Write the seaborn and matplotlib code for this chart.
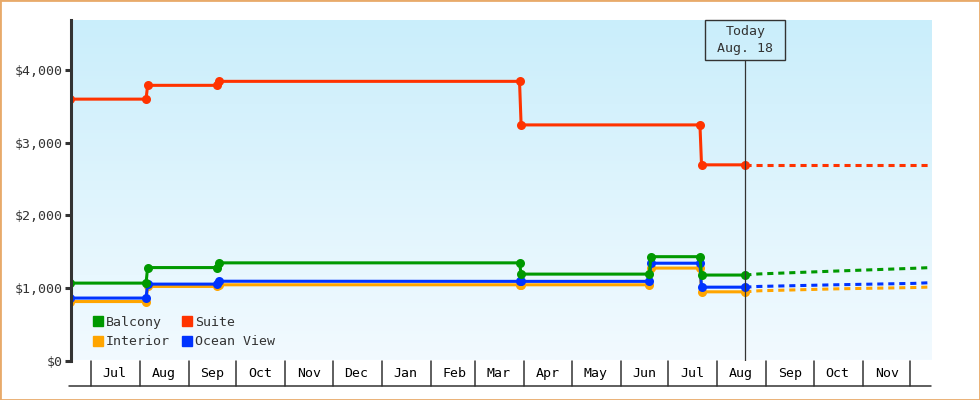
import matplotlib
matplotlib.use("Agg")
import matplotlib.pyplot as plt
import matplotlib.dates as mdates
from matplotlib.colors import LinearSegmentedColormap
from matplotlib.lines import Line2D
from matplotlib.patches import Rectangle
from matplotlib.ticker import FuncFormatter
import numpy as np
import pandas as pd
import seaborn as sns

# price history, one value per cabin at each change date (nan = no point that day)
hist_dates = ['2013-06-18', '2013-08-05', '2013-08-06', '2013-09-19', '2013-09-20',
              '2014-03-29', '2014-03-30', '2014-06-19', '2014-06-20', '2014-07-21',
              '2014-07-22', '2014-08-18 16:00']
interior = [812, 812, 1020, 1020, 1043, 1043, 1043, 1043, 1273, 1273, 946, 946]
ocean_view = [860, 860, 1052, 1052, 1092, 1090, 1090, 1090, 1340, 1340, 1010, 1010]
balcony = [1066, 1066, 1280, 1280, 1345, 1345, 1190, 1190, 1430, 1430, 1177, 1177]
suite = [3600, 3600, 3790, 3790, 3845, 3845, 3245, np.nan, np.nan, 3245, 2695, 2695]

# forecast after today (dashed)
fc_dates = ['2014-08-18 16:00', '2014-08-27', '2014-10-15', '2014-12-03', '2014-12-14']
interior_fc = [946, 960, 987, 1005, 1012]
ocean_view_fc = [1010, 1020, 1043, 1062, 1072]
balcony_fc = [1177, 1192, 1232, 1270, 1280]
suite_fc = [2695, 2695, 2695, 2695, 2695]

cabins = ['Interior', 'Ocean View', 'Balcony', 'Suite']
colors = {'Interior': '#ffa500', 'Ocean View': '#0033ff', 'Balcony': '#009900', 'Suite': '#ff3300'}
months = ['Jul', 'Aug', 'Sep', 'Oct', 'Nov', 'Dec', 'Jan', 'Feb', 'Mar', 'Apr', 'May',
          'Jun', 'Jul', 'Aug', 'Sep', 'Oct', 'Nov']
today = '2014-08-18 16:00'


def long_frame(dates, series):
    rows = []
    for name, vals in zip(cabins, series):
        for d, v in zip(dates, vals):
            rows.append((pd.Timestamp(d), v, name))
    return pd.DataFrame(rows, columns=['date', 'price', 'cabin']).dropna()


hist = long_frame(hist_dates, [interior, ocean_view, balcony, suite])
fc = long_frame(fc_dates, [interior_fc, ocean_view_fc, balcony_fc, suite_fc])

sns.set_theme(style='white')
plt.rcParams['font.family'] = ['DejaVu Sans Mono']
txt = '#333333'

fig = plt.figure(figsize=(9.8, 4), dpi=100)
ax = fig.add_axes([71 / 980, 39.5 / 400, 860 / 980, 340.5 / 400])

# background gradient
cmap = LinearSegmentedColormap.from_list('bg', ['#f2faff', '#caeefb'])
ax.imshow(np.linspace(0, 1, 256).reshape(-1, 1), cmap=cmap, origin='lower',
          extent=[0, 1, 0, 1], transform=ax.transAxes, aspect='auto', zorder=0)

sns.lineplot(data=fc, x='date', y='price', hue='cabin', hue_order=cabins, palette=colors,
             estimator=None, sort=False, legend=False, ax=ax, linewidth=2.2,
             linestyle=(0, (2.0, 1.6)), zorder=2)
sns.lineplot(data=hist, x='date', y='price', hue='cabin', hue_order=cabins, palette=colors,
             estimator=None, sort=False, legend=False, ax=ax, linewidth=2.2,
             marker='o', markersize=6.5, markeredgewidth=0, zorder=3)

x0 = mdates.date2num(pd.Timestamp('2013-06-18 14:00'))
x1 = mdates.date2num(pd.Timestamp('2014-12-14'))
ax.set_xlim(x0, x1)
ax.set_ylim(0, 4690)
ax.set_xlabel('')
ax.set_ylabel('')

# y axis
ax.set_yticks([0, 1000, 2000, 3000, 4000])
ax.yaxis.set_major_formatter(FuncFormatter(lambda v, _: f'${v:,.0f}'))
ax.tick_params(axis='y', direction='out', length=4.5, width=2.2, color=txt,
               labelcolor=txt, labelsize=9.5, pad=1.5, left=True)
for s in ['top', 'right', 'bottom']:
    ax.spines[s].set_visible(False)
ax.spines['left'].set_color(txt)
ax.spines['left'].set_linewidth(2.2)
ax.spines['left'].set_zorder(5)

# month cells below the plot
trans = ax.get_xaxis_transform()
cell = 25 / 340.5
starts = pd.date_range('2013-07-01', '2014-12-01', freq='MS')
for d in starts:
    xd = mdates.date2num(d)
    ax.plot([xd, xd], [0, -cell], color=txt, lw=1.1, transform=trans, clip_on=False)
ax.plot([x0 - 1, x1], [-cell, -cell], color=txt, lw=1.1, transform=trans, clip_on=False)
mids = [mdates.date2num(d + pd.Timedelta(days=15)) for d in starts[:-1]]
ax.set_xticks(mids)
ax.set_xticklabels(months)
ax.tick_params(axis='x', length=0, pad=4.5, labelsize=9.5, labelcolor='black')

# today marker
td = mdates.date2num(pd.Timestamp(today))
box_bottom = (360.5 - 60) / 340.5
ax.plot([td, td], [0, box_bottom], color=txt, lw=0.9, transform=trans, zorder=4)
days_w = 80 / (860 / (x1 - x0))
ax.add_patch(Rectangle((td - days_w / 2, box_bottom), days_w, 1 - box_bottom,
                       transform=trans, fill=False, edgecolor=txt, lw=1.0, zorder=4,
                       clip_on=False))
ax.text(td, (360.5 - 40) / 340.5, 'Today\nAug. 18', transform=trans, ha='center',
        va='center', fontsize=9.5, color=txt, linespacing=1.35, zorder=4)

# legend
leg_order = ['Balcony', 'Interior', 'Suite', 'Ocean View']
handles = [Line2D([], [], ls='', marker='s', markersize=7.6, color=colors[c]) for c in leg_order]
ax.legend(handles, leg_order, ncol=2, loc='lower left', bbox_to_anchor=(0.0256, 0.036),
          frameon=False, fontsize=9.5, handlelength=0.8, handletextpad=0.2,
          columnspacing=0.9, labelspacing=0.5, borderpad=0, borderaxespad=0,
          labelcolor=txt)

# orange frame round the image
fig.add_artist(Rectangle((0, 0), 1, 1, transform=fig.transFigure, fill=False,
                         edgecolor='#e8aa6a', lw=2.0, clip_on=False))

fig.savefig('out.png', dpi=100)
